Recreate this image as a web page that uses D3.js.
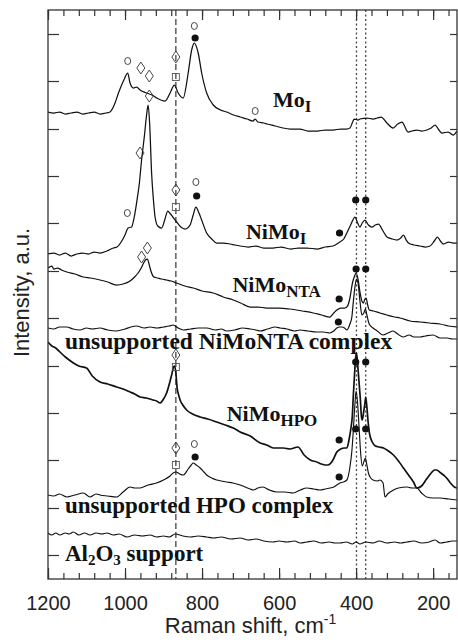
<!DOCTYPE html>
<html>
<head>
<meta charset="utf-8">
<script src="https://cdn.jsdelivr.net/npm/d3@7"></script>
<style>
  body { margin: 0; background: #fff; }
  svg { display: block; }
</style>
</head>
<body>
<svg id="chart"></svg>
<script>
// Raman spectra, [wavenumber cm-1, intensity a.u.]
const moI = [
  [1200,467],[1185,466],[1170,467],[1155,465],[1140,466],[1125,467],[1110,465],[1095,466],[1080,467],
  [1065,465],[1050,466],[1039,467],[1028,474],[1017,486],[1003,499],[993,506],[987,496],[978,491],
  [970,492],[961,489],[944,486],[930,484],[918,481],[896,478],[883,486],[872,494],[862,486],[849,481],
  [836,506],[827,529],[820,536],[810,526],[801,506],[788,486],[771,474],[752,469],[736,467],[718,464],
  [701,462],[683,460],[668,458],[662,460],[655,457],[640,456],[631,455],[610,453],[590,451],[570,450],
  [546,450],[525,448],[501,448],[480,449],[460,449],[440,450],[425,450],[416,451],[408,458],[405,460],
  [395,459],[390,460],[372,461],[356,460],[345,461],[335,462],[320,456],[304,451],[292,455],[281,457],
  [265,447],[255,448],[242,449],[230,448],[216,449],[205,451],[195,454],[185,449],[177,446],[161,447],
  [148,444],[138,448]
];
const niMoI = [
  [1200,325],[1185,326],[1170,324],[1155,326],[1140,323],[1125,325],[1110,326],[1095,325],[1080,327],
  [1065,326],[1047,328],[1030,331],[1021,332],[1010,337],[1000,344],[992,351],[983,352],[976,362],
  [970,376],[963,395],[957,419],[950,442],[944,464],[940,474],[936,455],[931,406],[926,378],[922,362],
  [915,353],[905,351],[897,359],[889,368],[882,365],[876,362],[866,357],[855,352],[844,350],[831,354],
  [823,364],[816,372],[808,366],[801,359],[788,346],[775,340],[762,336],[745,336],[727,335],[715,334],
  [701,333],[680,332],[660,333],[640,331],[616,331],[595,332],[570,330],[550,331],[528,331],[500,330],
  [480,332],[460,333],[450,335],[442,337],[432,340],[424,346],[413,355],[403,362],[396,356],[390,352],
  [384,356],[377,359],[368,354],[359,352],[350,354],[342,355],[330,348],[320,342],[306,340],[294,339],
  [284,341],[277,344],[270,339],[264,336],[250,334],[234,333],[220,332],[208,333],[197,338],[189,342],
  [181,338],[173,335],[160,337],[148,336],[138,336]
];
const niMoNTA = [
  [1200,311],[1190,313],[1185,310],[1175,311],[1165,309],[1151,307],[1130,305],[1109,302],[1090,301],
  [1065,299],[1045,297],[1022,294],[1005,295],[987,298],[975,302],[966,306],[958,311],[953,315],
  [947,319],[942,320],[937,314],[932,307],[925,302],[915,301],[905,300],[892,299],[880,298],[866,296],
  [845,293],[823,291],[800,288],[771,286],[745,282],[719,279],[700,276],[675,272],[655,272],[632,271],
  [600,271],[572,270],[540,268],[511,266],[490,264],[468,262],[458,266],[450,269],[440,271],[430,271],
  [424,272],[416,281],[410,295],[404,303],[400,306],[395,300],[390,287],[385,278],[381,276],[377,280],
  [374,281],[370,274],[366,269],[355,268],[338,266],[320,264],[300,262],[286,261],[260,258],[234,257],
  [210,256],[182,255],[160,253],[138,252]
];
const niMoNTAComplex = [
  [1200,251],[1185,250],[1170,252],[1151,252],[1135,250],[1117,249],[1100,251],[1085,250],[1065,251],
  [1045,249],[1022,248],[1000,250],[985,252],[970,253],[950,251],[935,252],[918,251],[900,252],
  [885,253],[875,254],[862,251],[849,249],[830,250],[810,251],[788,251],[765,249],[750,250],[736,248],
  [715,249],[695,251],[675,250],[660,249],[649,248],[630,250],[610,252],[597,251],[580,250],[560,248],
  [546,249],[525,248],[502,247],[485,247],[468,246],[458,248],[450,251],[443,252],[437,252],[430,251],
  [424,249],[416,255],[411,262],[407,278],[403,292],[399,300],[395,296],[390,278],[385,264],[380,266],
  [376,270],[372,264],[366,255],[356,251],[345,248],[330,244],[317,246],[304,248],[292,245],[278,242],
  [262,244],[250,242],[234,242],[220,243],[200,244],[182,241],[164,241],[150,240],[138,240]
];
const niMoHPO = [
  [1200,237],[1190,233],[1180,231],[1169,227],[1155,222],[1145,219],[1134,216],[1120,213],[1100,211],
  [1085,203],[1065,197],[1045,195],[1022,192],[1005,190],[987,187],[975,185],[961,182],[945,181],
  [927,179],[918,178],[909,176],[900,180],[892,186],[885,195],[879,204],[874,212],[871,213],[868,206],
  [865,192],[860,183],[857,179],[850,174],[840,169],[825,165],[805,162],[785,160],[762,157],[740,154],
  [719,151],[701,147],[675,143],[649,136],[632,134],[615,131],[589,131],[572,130],[551,132],[535,124],
  [519,119],[502,117],[490,115],[481,114],[473,114],[460,119],[450,127],[440,130],[430,131],[424,131],
  [418,140],[413,152],[410,162],[407,185],[404,205],[401,222],[399,226],[396,215],[393,200],[389,180],
  [386,162],[384,159],[380,168],[377,176],[375,182],[372,172],[369,158],[365,145],[358,137],[350,133],
  [340,132],[329,131],[316,128],[303,124],[290,118],[277,111],[264,104],[251,97],[242,91],[230,93],
  [217,100],[205,106],[196,109],[191,109],[180,106],[170,103],[165,101],[155,96],[145,92],[138,91]
];
const hpoComplex = [
  [1200,84],[1185,83],[1170,85],[1151,82],[1130,84],[1108,86],[1091,82],[1075,85],[1065,84],[1045,83],
  [1022,82],[1005,87],[987,92],[975,91],[961,91],[940,94],[918,96],[900,99],[883,103],[875,106],
  [868,107],[858,105],[849,104],[836,110],[828,114],[823,116],[815,114],[805,111],[795,107],[788,104],
  [775,101],[762,99],[750,98],[736,97],[720,96],[701,94],[688,92],[675,90],[667,89],[655,91],[642,92],
  [625,89],[606,87],[585,87],[563,86],[545,89],[528,91],[510,90],[494,89],[480,90],[468,91],[458,92],
  [450,94],[442,96],[433,97],[424,99],[416,112],[411,128],[407,150],[403,175],[400,188],[396,175],
  [392,150],[388,125],[384,113],[380,117],[376,121],[372,114],[368,106],[362,101],[356,99],[345,98],
  [338,99],[330,96],[325,82],[318,85],[303,89],[290,91],[268,92],[255,91],[242,91],[230,86],[217,82],
  [200,81],[182,81],[160,80],[138,79]
];
const al2o3 = [
  [1200,46],[1190,44],[1180,46],[1169,44],[1155,46],[1145,45],[1134,47],[1120,44],[1105,46],[1091,44],
  [1075,46],[1060,45],[1047,46],[1030,44],[1015,45],[995,42],[975,44],[955,43],[935,44],[918,42],
  [900,43],[885,42],[870,45],[850,43],[830,42],[810,43],[788,42],[770,41],[750,42],[725,40],[701,41],
  [680,39],[660,40],[640,38],[616,37],[600,38],[580,37],[560,38],[545,36],[528,37],[510,38],[490,36],
  [470,37],[455,36],[442,36],[425,37],[410,35],[400,37],[390,35],[375,37],[356,36],[340,38],[320,36],
  [300,37],[285,36],[268,37],[250,38],[230,36],[210,37],[195,39],[182,36],[165,37],[150,38],[138,38]
];

// band markers
const dotMarks = [[818,541],[814,383],[401,379],[375,379],[443,346],[400,310],[375,310],[444,280],
  [446,257],[401,217],[375,217],[444,139],[818,122],[401,150],[375,150],[444,102]];
const openMarks = [[993,518],[820,553],[662,468],[994,366],[816,397],[820,135]];
const diamondMarks = [[959,511],[937,503],[937,483],[868,522],[961,426],[868,389],[957,322],
  [942,331],[868,224],[868,131]];
const squareMarks = [[868,502],[868,372],[868,212],[868,114]];

const dashedLines = [868];
const dottedLines = [399, 375];

const xMajor = [1200, 1000, 800, 600, 400, 200];
const xMinor = d3.range(1200, 138, -40);
const yTicks = [24, 71, 119, 166, 213, 261, 308, 356, 403, 450, 498, 545];

const width = 458, height = 644;
const margin = {top: 10, right: 1, bottom: 65, left: 48};

const svg = d3.select("#chart")
    .attr("width", width)
    .attr("height", height)
    .attr("viewBox", [0, 0, width, height]);

const x = d3.scaleLinear().domain([1200, 138]).range([margin.left, width - margin.right]);
const y = d3.scaleLinear().domain([0, 569]).range([height - margin.bottom, margin.top]);

svg.append("clipPath").attr("id", "plot")
  .append("rect")
    .attr("x", margin.left).attr("y", margin.top)
    .attr("width", width - margin.right - margin.left)
    .attr("height", height - margin.bottom - margin.top);

const line = d3.line()
    .curve(d3.curveMonotoneX)
    .x(d => x(d[0]))
    .y(d => y(d[1]));

// reference lines
svg.append("g")
  .selectAll("line")
  .data(dashedLines)
  .join("line")
    .attr("x1", d => x(d)).attr("x2", d => x(d))
    .attr("y1", margin.top).attr("y2", height - margin.bottom)
    .attr("stroke", "#444")
    .attr("stroke-width", 1.3)
    .attr("stroke-dasharray", "6,3");

svg.append("g")
  .selectAll("line")
  .data(dottedLines)
  .join("line")
    .attr("x1", d => x(d)).attr("x2", d => x(d))
    .attr("y1", margin.top).attr("y2", height - margin.bottom)
    .attr("stroke", "#444")
    .attr("stroke-width", 1.3)
    .attr("stroke-dasharray", "2,2.5");

const spectra = [
  {data: moI, w: 1.25},
  {data: niMoI, w: 1.25},
  {data: niMoNTA, w: 1.25},
  {data: niMoNTAComplex, w: 1.2},
  {data: niMoHPO, w: 1.7},
  {data: hpoComplex, w: 1.15},
  {data: al2o3, w: 1.15},
];

svg.append("g")
    .attr("clip-path", "url(#plot)")
  .selectAll("path")
  .data(spectra)
  .join("path")
    .attr("fill", "none")
    .attr("stroke", "#111")
    .attr("stroke-width", d => d.w)
    .attr("stroke-linejoin", "round")
    .attr("d", d => line(d.data));

// markers
const marks = svg.append("g");
marks.selectAll(".dot")
  .data(dotMarks)
  .join("circle")
    .attr("cx", d => x(d[0])).attr("cy", d => y(d[1]))
    .attr("r", 3.6)
    .attr("fill", "#111");
marks.selectAll(".open")
  .data(openMarks)
  .join("ellipse")
    .attr("cx", d => x(d[0])).attr("cy", d => y(d[1]))
    .attr("rx", 3).attr("ry", 3.5)
    .attr("fill", "none")
    .attr("stroke", "#333")
    .attr("stroke-width", 0.9);
marks.selectAll(".diamond")
  .data(diamondMarks)
  .join("path")
    .attr("d", d => {
      const cx = x(d[0]), cy = y(d[1]);
      return `M${cx},${cy - 6}L${cx + 4},${cy}L${cx},${cy + 6}L${cx - 4},${cy}Z`;
    })
    .attr("fill", "none")
    .attr("stroke", "#333")
    .attr("stroke-width", 0.9);
marks.selectAll(".square")
  .data(squareMarks)
  .join("rect")
    .attr("x", d => x(d[0]) - 3.5).attr("y", d => y(d[1]) - 3.5)
    .attr("width", 7).attr("height", 7)
    .attr("fill", "none")
    .attr("stroke", "#555")
    .attr("stroke-width", 0.9);

// spectrum labels
const labels = [
  {wn: 616, v: 472, parts: [["Mo", 0, 22], ["I", 5, 17]]},
  {wn: 686, v: 340, parts: [["NiMo", 0, 22], ["I", 4.5, 17]]},
  {wn: 721, v: 287, parts: [["NiMo", 0, 22], ["NTA", 5, 17]]},
  {wn: 1156, v: 230, parts: [["unsupported NiMoNTA complex", 0, 23.5]]},
  {wn: 736, v: 158, parts: [["NiMo", 0, 22], ["HPO", 5, 17]]},
  {wn: 1156, v: 66, parts: [["unsupported HPO complex", 0, 23]]},
  {wn: 1156, v: 18, parts: [["Al", 0, 23], ["2", 4, 15], ["O", -4, 23], ["3", 4, 15], [" support", -4, 23]]},
];
const lt = svg.append("g")
    .attr("font-family", "'Liberation Serif', 'Times New Roman', serif")
    .attr("font-weight", "bold")
    .attr("fill", "#111")
  .selectAll("text")
  .data(labels)
  .join("text")
    .attr("x", d => x(d.wn))
    .attr("y", d => y(d.v));
lt.selectAll("tspan")
  .data(d => d.parts)
  .join("tspan")
    .attr("dy", p => p[1])
    .attr("font-size", p => p[2])
    .text(p => p[0]);

// axes
const axisColor = "#333";
const styleAxis = g => {
  g.select(".domain").remove();
  g.selectAll(".tick line").attr("stroke", axisColor).attr("stroke-width", 1.2);
};

svg.append("g")
    .attr("transform", `translate(0,${height - margin.bottom})`)
    .call(d3.axisBottom(x).tickValues(xMinor).tickSize(-6).tickFormat(""))
    .call(styleAxis);
svg.append("g")
    .attr("transform", `translate(0,${height - margin.bottom})`)
    .call(d3.axisBottom(x).tickValues(xMajor).tickSize(-11).tickPadding(17).tickFormat(d3.format("d")))
    .call(styleAxis)
    .call(g => g.selectAll(".tick text")
        .attr("font-family", "'Liberation Sans', Arial, sans-serif")
        .attr("font-size", 20)
        .attr("fill", "#222"));
svg.append("g")
    .attr("transform", `translate(0,${margin.top})`)
    .call(d3.axisTop(x).tickValues(xMinor).tickSize(-6).tickFormat(""))
    .call(styleAxis);
svg.append("g")
    .attr("transform", `translate(0,${margin.top})`)
    .call(d3.axisTop(x).tickValues(xMajor).tickSize(-10).tickFormat(""))
    .call(styleAxis);
svg.append("g")
    .attr("transform", `translate(${margin.left},0)`)
    .call(d3.axisLeft(y).tickValues(yTicks).tickSize(-11).tickFormat(""))
    .call(styleAxis);
svg.append("g")
    .attr("transform", `translate(${width - margin.right},0)`)
    .call(d3.axisRight(y).tickValues(yTicks).tickSize(-7).tickFormat(""))
    .call(styleAxis);

svg.append("rect")
    .attr("x", margin.left).attr("y", margin.top)
    .attr("width", width - margin.right - margin.left)
    .attr("height", height - margin.bottom - margin.top)
    .attr("fill", "none")
    .attr("stroke", axisColor)
    .attr("stroke-width", 1.3);

// axis titles
svg.append("text")
    .attr("x", (margin.left + width - margin.right) / 2 - 2)
    .attr("y", 633)
    .attr("text-anchor", "middle")
    .attr("font-family", "'Liberation Sans', Arial, sans-serif")
    .attr("font-size", 22)
    .attr("fill", "#222")
    .text("Raman shift, cm")
  .append("tspan")
    .attr("dy", -9)
    .attr("font-size", 14)
    .text("-1");

svg.append("text")
    .attr("transform", `translate(29,${(margin.top + height - margin.bottom) / 2 - 2}) rotate(-90)`)
    .attr("text-anchor", "middle")
    .attr("font-family", "'Liberation Sans', Arial, sans-serif")
    .attr("font-size", 22)
    .attr("fill", "#222")
    .text("Intensity, a.u.");
</script>
</body>
</html>
